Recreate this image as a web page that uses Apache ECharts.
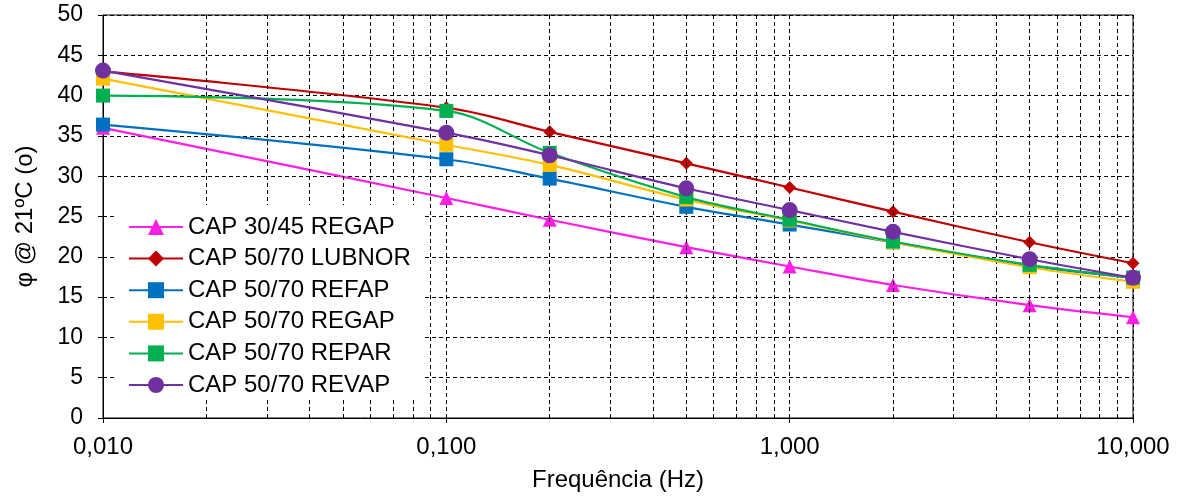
<!DOCTYPE html>
<html>
<head>
<meta charset="utf-8">
<script src="https://cdn.jsdelivr.net/npm/echarts@6/dist/echarts.min.js"></script>
<style>html,body{margin:0;padding:0;background:#fff}#c{width:1181px;height:496px}</style>
</head>
<body>
<div id="c"></div>
<script>
var freqs = [0.01, 0.1, 0.2, 0.5, 1, 2, 5, 10];
var seriesNames = ['CAP 30/45 REGAP', 'CAP 50/70 LUBNOR', 'CAP 50/70 REFAP', 'CAP 50/70 REGAP', 'CAP 50/70 REPAR', 'CAP 50/70 REVAP'];
var regap3045 = [36.0, 27.3, 24.6, 21.2, 18.8, 16.5, 14.0, 12.5];
var lubnor = [43.0, 38.5, 35.5, 31.6, 28.6, 25.6, 21.8, 19.2];
var refap = [36.4, 32.1, 29.7, 26.2, 24.0, 21.8, 18.9, 17.4];
var regap5070 = [42.1, 33.9, 31.4, 27.1, 24.5, 21.8, 18.7, 16.9];
var repar = [40.0, 38.1, 32.9, 27.4, 24.6, 21.9, 19.0, 17.4];
var revap = [43.1, 35.4, 32.6, 28.5, 25.8, 23.1, 19.7, 17.4];
var minorFreqs = [0.02,0.03,0.04,0.05,0.06,0.07,0.08,0.09,0.2,0.3,0.4,0.5,0.6,0.7,0.8,0.9,2,3,4,5,6,7,8,9];

var colors = ['#FF1EE6', '#C00000', '#0070C0', '#FFC000', '#00B050', '#7030A0'];
var symbols = ['triangle', 'diamond', 'rect', 'rect', 'rect', 'circle'];
var sizes = [14, 13, 14, 14, 14, 16];
var values = [regap3045, lubnor, refap, regap5070, repar, revap];

function pairs(v){ return freqs.map(function(f,i){ return [f, v[i]]; }); }

var series = [{
  name: 'minor', type: 'line', data: [], z: 1, silent: true,
  markLine: {
    silent: true, symbol: 'none', animation: false,
    label: {show: false},
    lineStyle: {type: [4, 3], color: '#000', width: 1},
    data: minorFreqs.map(function(f){ return {xAxis: f}; })
  }
}];
seriesNames.forEach(function(n, i){
  series.push({
    name: n, type: 'line', smooth: 0.35, data: pairs(values[i]),
    symbol: symbols[i], symbolSize: sizes[i],
    lineStyle: {color: colors[i], width: 2.2},
    itemStyle: {color: colors[i]},
    z: 3 + i, animation: false
  });
});

var FF = 'Liberation Sans, Arial, sans-serif';
var chart = echarts.init(document.getElementById('c'));
chart.setOption({
  animation: false,
  textStyle: {fontFamily: FF},
  grid: {left: 103, right: 48, top: 15, bottom: 78, containLabel: false, outerBoundsMode: 'none',
    show: true, borderColor: '#000', borderWidth: 1, backgroundColor: 'transparent'},
  legend: {
    data: seriesNames, orient: 'vertical', left: 116, top: 205,
    backgroundColor: '#fff', padding: [10, 12, 3, 12], itemGap: 7.6,
    itemWidth: 54, itemHeight: 20,
    textStyle: {fontSize: 24, lineHeight: 20, color: '#000', fontFamily: FF},
    z: 10
  },
  xAxis: {
    type: 'log', logBase: 10, min: 0.01, max: 10,
    name: 'Frequência (Hz)', nameLocation: 'middle', nameGap: 50,
    nameTextStyle: {fontSize: 24, color: '#000', fontFamily: FF},
    axisLine: {lineStyle: {color: '#000', width: 1}},
    axisTick: {show: true, length: 5, inside: false, lineStyle: {color: '#000'}},
    axisLabel: {fontSize: 24, color: '#000', margin: 17, fontFamily: FF,
      formatter: function(v){ return Number(v).toFixed(3).replace('.', ','); }},
    splitLine: {show: true, lineStyle: {type: [4, 3], color: '#000', width: 1}},
    minorTick: {show: false}, minorSplitLine: {show: false}
  },
  yAxis: {
    type: 'value', min: 0, max: 50, interval: 5,
    name: 'φ @ 21ºC (o)', nameLocation: 'middle', nameGap: 66,
    nameTextStyle: {fontSize: 24, color: '#000', fontFamily: FF},
    axisLine: {show: true, lineStyle: {color: '#000', width: 1}},
    axisTick: {show: true, length: 5, inside: false, lineStyle: {color: '#000'}},
    axisLabel: {fontSize: 23, color: '#000', margin: 20, fontFamily: FF},
    splitLine: {show: true, lineStyle: {type: [4, 3], color: '#000', width: 1}}
  },
  series: series
});
</script>
</body>
</html>
